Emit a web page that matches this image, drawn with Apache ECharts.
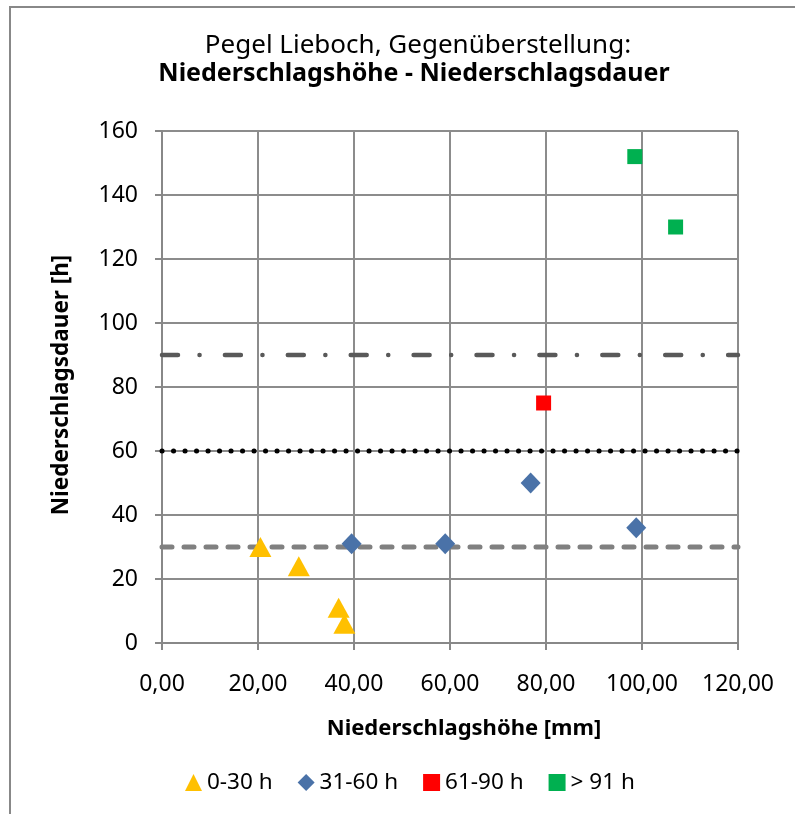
<!DOCTYPE html>
<html>
<head>
<meta charset="utf-8">
<script src="https://cdn.jsdelivr.net/npm/echarts@6/dist/echarts.min.js"></script>
<style>
html,body{margin:0;padding:0;background:#fff;}
#chart{width:795px;height:814px;}
</style>
</head>
<body>
<div id="chart"></div>
<script>
const titleLine1 = 'Pegel Lieboch, Gegenüberstellung:';
const titleLine2 = 'Niederschlagshöhe - Niederschlagsdauer';
const xAxisTitle = 'Niederschlagshöhe [mm]';
const yAxisTitle = 'Niederschlagsdauer [h]';
const seriesNames = ['0-30 h', '31-60 h', '61-90 h', '> 91 h'];
const s0_30 = [[20.5, 30], [28.5, 24], [36.8, 11], [38.0, 6]];
const s31_60 = [[39.5, 31], [59.0, 31], [76.8, 50], [98.8, 36]];
const s61_90 = [[79.5, 75]];
const s91 = [[98.5, 152], [107, 130]];
const thresholds = [30, 60, 90];
const xRange = [0, 120];
const yRange = [0, 160];
const xInterval = 20;
const yInterval = 20;

const FONT = 'Noto Sans';
const chart = echarts.init(document.getElementById('chart'), null, {renderer: 'canvas'});

function hLine(y) { return [[xRange[0], y], [xRange[1], y]]; }

const option = {
  backgroundColor: '#fff',
  animation: false,
  textStyle: {fontFamily: FONT},
  grid: {left: 162, top: 131, width: 576, height: 512, containLabel: false},
  xAxis: {
    type: 'value', min: xRange[0], max: xRange[1], interval: xInterval,
    axisLine: {show: true, lineStyle: {color: '#888', width: 2}},
    axisTick: {show: true, length: 7, lineStyle: {color: '#888', width: 2}},
    splitLine: {show: true, lineStyle: {color: '#8c8c8c', width: 2}},
    axisLabel: {color: '#000', fontSize: 23, fontFamily: FONT, margin: 30,
      formatter: v => v.toFixed(2).replace('.', ',')}
  },
  yAxis: {
    type: 'value', min: yRange[0], max: yRange[1], interval: yInterval,
    axisLine: {show: true, lineStyle: {color: '#888', width: 2}},
    axisTick: {show: true, length: 7, lineStyle: {color: '#888', width: 2}},
    splitLine: {show: true, lineStyle: {color: '#8c8c8c', width: 2}},
    axisLabel: {color: '#000', fontSize: 23, fontFamily: FONT, margin: 24}
  },
  legend: {
    left: 180, top: 766, itemWidth: 17, itemHeight: 17, itemGap: 25,
    textStyle: {fontSize: 22.5, color: '#000', fontFamily: FONT},
    data: [
      {name: seriesNames[0], icon: 'triangle'},
      {name: seriesNames[1], icon: 'diamond'},
      {name: seriesNames[2], icon: 'rect'},
      {name: seriesNames[3], icon: 'rect'}
    ]
  },
  graphic: [
    {type: 'line', shape: {x1: 10, y1: 7, x2: 795, y2: 7}, style: {stroke: '#888', lineWidth: 2}},
    {type: 'line', shape: {x1: 10, y1: 6, x2: 10, y2: 814}, style: {stroke: '#888', lineWidth: 2}},
    {type: 'text', x: 418, y: 46, style: {text: titleLine1, font: '26px "Noto Sans"', fill: '#000', textAlign: 'center', textVerticalAlign: 'middle'}},
    {type: 'text', x: 414, y: 74, style: {text: titleLine2, font: 'bold 25px "Noto Sans"', fill: '#000', textAlign: 'center', textVerticalAlign: 'middle'}},
    {type: 'text', x: 464, y: 729, style: {text: xAxisTitle, font: 'bold 22px "Noto Sans"', fill: '#000', textAlign: 'center', textVerticalAlign: 'middle'}},
    {type: 'text', x: 62, y: 385, rotation: Math.PI / 2, style: {text: yAxisTitle, font: 'bold 22.5px "Noto Sans"', fill: '#000', textAlign: 'center', textVerticalAlign: 'middle'}}
  ],
  series: [
    {name: 't30', type: 'line', data: hLine(thresholds[0]), symbol: 'none', silent: true, z: 1,
      lineStyle: {color: '#808080', width: 5, type: [10, 12], cap: 'round'}},
    {name: 't60a', type: 'line', data: hLine(thresholds[1]), symbol: 'none', silent: true, z: 1,
      lineStyle: {color: '#888', width: 1}},
    {name: 't60', type: 'line', data: hLine(thresholds[1]), symbol: 'none', silent: true, z: 1,
      lineStyle: {color: '#000', width: 5, type: [0.1, 11.4], cap: 'round'}},
    {name: 't90', type: 'line', data: hLine(thresholds[2]), symbol: 'none', silent: true, z: 1,
      lineStyle: {color: '#595959', width: 4.5, type: [16, 21.5, 0.1, 25.3], cap: 'round'}},
    {name: seriesNames[0], type: 'scatter', data: s0_30, symbol: 'triangle', symbolSize: [22, 20],
      itemStyle: {color: '#FFC000', opacity: 1}, z: 3},
    {name: seriesNames[1], type: 'scatter', data: s31_60, symbol: 'diamond', symbolSize: [20, 21],
      itemStyle: {color: '#4A72A8', opacity: 1}, z: 3},
    {name: seriesNames[2], type: 'scatter', data: s61_90, symbol: 'rect', symbolSize: 15,
      itemStyle: {color: '#FF0000', opacity: 1}, z: 3},
    {name: seriesNames[3], type: 'scatter', data: s91, symbol: 'rect', symbolSize: 15,
      itemStyle: {color: '#00B050', opacity: 1}, z: 3}
  ]
};
chart.setOption(option);
</script>
</body>
</html>
